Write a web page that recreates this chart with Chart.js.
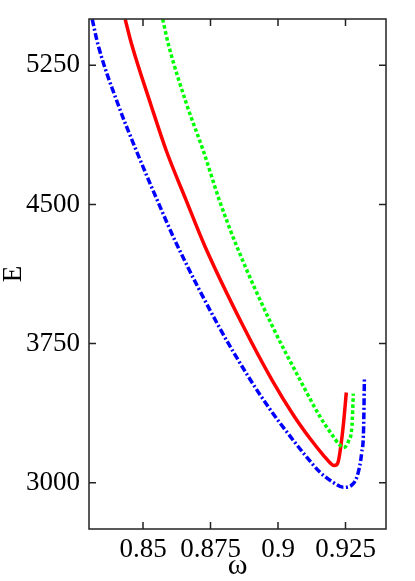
<!DOCTYPE html>
<html>
<head>
<meta charset="utf-8">
<script src="https://cdn.jsdelivr.net/npm/chart.js@4.4.1/dist/chart.umd.min.js"></script>
<style>
  html, body { margin: 0; padding: 0; background: #fff; }
  canvas { display: block; }
</style>
</head>
<body>
<canvas id="grafica" width="415" height="581"></canvas>
<script>
// valores (omega, E)
var omegaAzul = [0.8312, 0.8334, 0.8409, 0.8475, 0.8553, 0.8627, 0.8779, 0.8890, 0.8971, 0.9046, 0.9101, 0.9157, 0.9205, 0.9242, 0.9275, 0.9297, 0.9310, 0.9317, 0.9320];
var energiaAzul = [5498, 5358, 5034, 4791, 4522, 4279, 3847, 3572, 3394, 3248, 3147, 3054, 3001, 2975, 2989, 3054, 3162, 3291, 3561];

var omegaRojo = [0.8434, 0.8459, 0.8530, 0.8586, 0.8660, 0.8728, 0.8870, 0.8979, 0.9058, 0.9120, 0.9169, 0.9194, 0.9207, 0.9218, 0.9224, 0.9233, 0.9243, 0.9253];
var energiaRojo = [5498, 5358, 5034, 4791, 4522, 4279, 3847, 3550, 3362, 3235, 3146, 3105, 3092, 3097, 3119, 3200, 3325, 3486];

var omegaVerde = [0.8573, 0.8595, 0.8663, 0.8723, 0.8783, 0.8846, 0.8978, 0.9083, 0.9157, 0.9194, 0.9231, 0.9243, 0.9262, 0.9274, 0.9279];
var energiaVerde = [5498, 5358, 5034, 4791, 4522, 4279, 3847, 3550, 3352, 3271, 3200, 3190, 3227, 3308, 3480];

var ticksOmega = [0.85, 0.875, 0.9, 0.925];
var ticksEnergia = [3000, 3750, 4500, 5250];

var fuente = "'Liberation Serif', 'DejaVu Serif', serif";

function puntos(xs, ys) {
  var res = [];
  for (var i = 0; i < xs.length; i++) {
    res.push({ x: xs[i], y: ys[i] });
  }
  return res;
}

// marco y marcas de los ejes hacia dentro, en los cuatro lados
var marcoPlugin = {
  id: 'marco',
  afterDraw: function(chart) {
    var ctx = chart.ctx;
    var a = chart.chartArea;
    var sx = chart.scales.x;
    var sy = chart.scales.y;
    var largo = 7;
    ctx.save();
    ctx.strokeStyle = '#222';
    ctx.lineWidth = 1.5;
    ctx.strokeRect(a.left, a.top, a.right - a.left, a.bottom - a.top);
    ctx.beginPath();
    ticksOmega.forEach(function(v) {
      var px = sx.getPixelForValue(v);
      ctx.moveTo(px, a.bottom);
      ctx.lineTo(px, a.bottom - largo);
      ctx.moveTo(px, a.top);
      ctx.lineTo(px, a.top + largo);
    });
    ticksEnergia.forEach(function(v) {
      var py = sy.getPixelForValue(v);
      ctx.moveTo(a.left, py);
      ctx.lineTo(a.left + largo, py);
      ctx.moveTo(a.right, py);
      ctx.lineTo(a.right - largo, py);
    });
    ctx.stroke();
    ctx.restore();
  }
};

var ctxGrafica = document.getElementById('grafica').getContext('2d');

new Chart(ctxGrafica, {
  type: 'line',
  data: {
    datasets: [{
      label: 'verde',
      data: puntos(omegaVerde, energiaVerde),
      borderColor: '#00ff00',
      borderWidth: 3.5,
      borderDash: [3.5, 2.5],
      pointRadius: 0,
      cubicInterpolationMode: 'monotone',
      fill: false
    }, {
      label: 'rojo',
      data: puntos(omegaRojo, energiaRojo),
      borderColor: '#ff0000',
      borderWidth: 3.5,
      pointRadius: 0,
      cubicInterpolationMode: 'monotone',
      fill: false
    }, {
      label: 'azul',
      data: puntos(omegaAzul, energiaAzul),
      borderColor: '#0000ff',
      borderWidth: 3.5,
      borderDash: [7, 2.5, 2, 2.5],
      pointRadius: 0,
      cubicInterpolationMode: 'monotone',
      fill: false
    }]
  },
  options: {
    responsive: false,
    animation: false,
    layout: {
      padding: { top: 19, right: 29, bottom: 0, left: 0 }
    },
    plugins: {
      legend: { display: false },
      tooltip: { enabled: false }
    },
    scales: {
      x: {
        type: 'linear',
        min: 0.83,
        max: 0.94,
        afterBuildTicks: function(scale) {
          scale.ticks = ticksOmega.map(function(v) { return { value: v }; });
        },
        afterFit: function(scale) {
          scale.height = 52;
          scale.paddingLeft = 0;
          scale.paddingRight = 0;
        },
        grid: { display: false, drawTicks: false },
        border: { display: false },
        ticks: {
          color: '#000',
          padding: 5,
          maxRotation: 0,
          autoSkip: false,
          font: { family: fuente, size: 27 },
          callback: function(v) { return String(v); }
        },
        title: {
          display: true,
          text: 'ω',
          color: '#000',
          padding: 0,
          font: { family: fuente, size: 30, lineHeight: 1 }
        }
      },
      y: {
        type: 'linear',
        min: 2750,
        max: 5500,
        afterBuildTicks: function(scale) {
          scale.ticks = ticksEnergia.map(function(v) { return { value: v }; });
        },
        afterFit: function(scale) {
          scale.width = 89;
          scale.paddingTop = 0;
          scale.paddingBottom = 0;
        },
        grid: { display: false, drawTicks: false },
        border: { display: false },
        ticks: {
          color: '#000',
          padding: 9,
          autoSkip: false,
          font: { family: fuente, size: 27 },
          callback: function(v) { return String(v); }
        },
        title: {
          display: true,
          text: 'E',
          color: '#000',
          padding: 0,
          font: { family: fuente, size: 27, lineHeight: 1 }
        }
      }
    }
  },
  plugins: [marcoPlugin]
});
</script>
</body>
</html>
